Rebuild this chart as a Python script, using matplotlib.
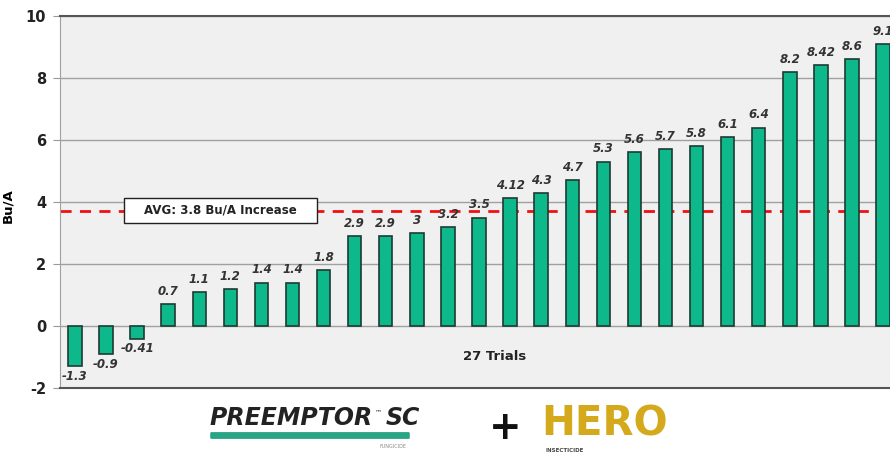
import matplotlib.pyplot as plt
from matplotlib.patches import FancyBboxPatch, Rectangle

# bar values (27 trials), sorted
values = [-1.3, -0.9, -0.41, 0.7, 1.1, 1.2, 1.4, 1.4, 1.8, 2.9, 2.9, 3, 3.2, 3.5,
          4.12, 4.3, 4.7, 5.3, 5.6, 5.7, 5.8, 6.1, 6.4, 8.2, 8.42, 8.6, 9.1]
labels = ["-1.3", "-0.9", "-0.41", "0.7", "1.1", "1.2", "1.4", "1.4", "1.8", "2.9", "2.9",
          "3", "3.2", "3.5", "4.12", "4.3", "4.7", "5.3", "5.6", "5.7", "5.8", "6.1",
          "6.4", "8.2", "8.42", "8.6", "9.1"]
avg_line = 3.7
avg_text = "AVG: 3.8 Bu/A Increase"
yticks = [-2, 0, 2, 4, 6, 8, 10]

fig = plt.figure(figsize=(8.9, 4.58), dpi=100)
ax = fig.add_axes([60/890, 70/458, 838/890, 372/458])
ax.set_facecolor("#f0f0f0")

x = list(range(len(values)))
ax.bar(x, values, width=0.43, color="#0db88a", edgecolor="#1f3a33", linewidth=1.2, zorder=3)

for xi, v, lab in zip(x, values, labels):
    if v >= 0:
        ax.text(xi, v + 0.2, lab, ha="center", va="bottom", fontsize=8.5,
                fontweight="bold", fontstyle="italic", color="#333333", zorder=4)
    else:
        ax.text(xi, v - 0.12, lab, ha="center", va="top", fontsize=8.5,
                fontweight="bold", fontstyle="italic", color="#333333", zorder=4)

ax.axhline(avg_line, color="#ee1111", linestyle=(0, (4, 3)), linewidth=2, zorder=2)
ax.add_patch(Rectangle((1.58, 3.33), 6.21, 0.81, fc="white", ec="#222222", lw=1, zorder=5))
ax.text(4.68, 3.74, avg_text, ha="center", va="center", fontsize=8.5,
        fontweight="semibold", color="#222222", zorder=6)
ax.text(13.5, -0.97, "27 Trials", ha="center", va="center", fontsize=9.5,
        fontweight="bold", color="#222222")

ax.set_xlim(-0.48, 26.48)
ax.set_ylim(-2, 10)
ax.set_yticks(yticks)
ax.set_yticklabels([str(t) for t in yticks], fontsize=10.5, fontweight="bold", color="#222222")
ax.tick_params(axis="y", length=5, color="#999999", pad=5)
ax.set_xticks([])
ax.grid(axis="y", color="#a0a0a0", linewidth=1, zorder=1)
ax.set_ylabel("Bu/A", fontsize=9.5, fontweight="bold")
ax.yaxis.set_label_coords(-46/838, 0.49)
ax.spines["top"].set_color("#555555")
ax.spines["top"].set_linewidth(1.5)
ax.spines["bottom"].set_color("#555555")
ax.spines["bottom"].set_linewidth(1.5)
ax.spines["left"].set_color("#a0a0a0")
ax.spines["right"].set_visible(False)

# logos drawn as text
fig.text(210/890, 1 - 418/458, "PREEMPTOR", fontsize=17, fontweight="heavy",
         fontstyle="italic", color="#222222", va="center", ha="left")
fig.text(375/890, 1 - 412/458, "™", fontsize=5, color="#222222", va="center")
fig.text(386/890, 1 - 418/458, "SC", fontsize=17, fontweight="heavy",
         fontstyle="italic", color="#222222", va="center", ha="left")
bar = FancyBboxPatch((212/890, 1 - 438/458), 196/890, 5/458,
                     boxstyle="round,pad=0.002", transform=fig.transFigure,
                     fc="#2aa486", ec="none")
fig.patches.append(bar)
fig.text(407/890, 1 - 447/458, "FUNGICIDE", fontsize=3.5, color="#888888", ha="right", va="center")
fig.text(505/890, 1 - 428/458, "+", fontsize=28, fontweight="heavy", color="#111111",
         ha="center", va="center")
fig.text(541/890, 1 - 424/458, "HERO", fontsize=29, fontweight="heavy",
         color="#d4aa1c", ha="left", va="center")
fig.text(546/890, 1 - 450/458, "INSECTICIDE", fontsize=4, fontweight="bold",
         color="#444444", ha="left", va="center")

plt.savefig("out.png", dpi=100)
